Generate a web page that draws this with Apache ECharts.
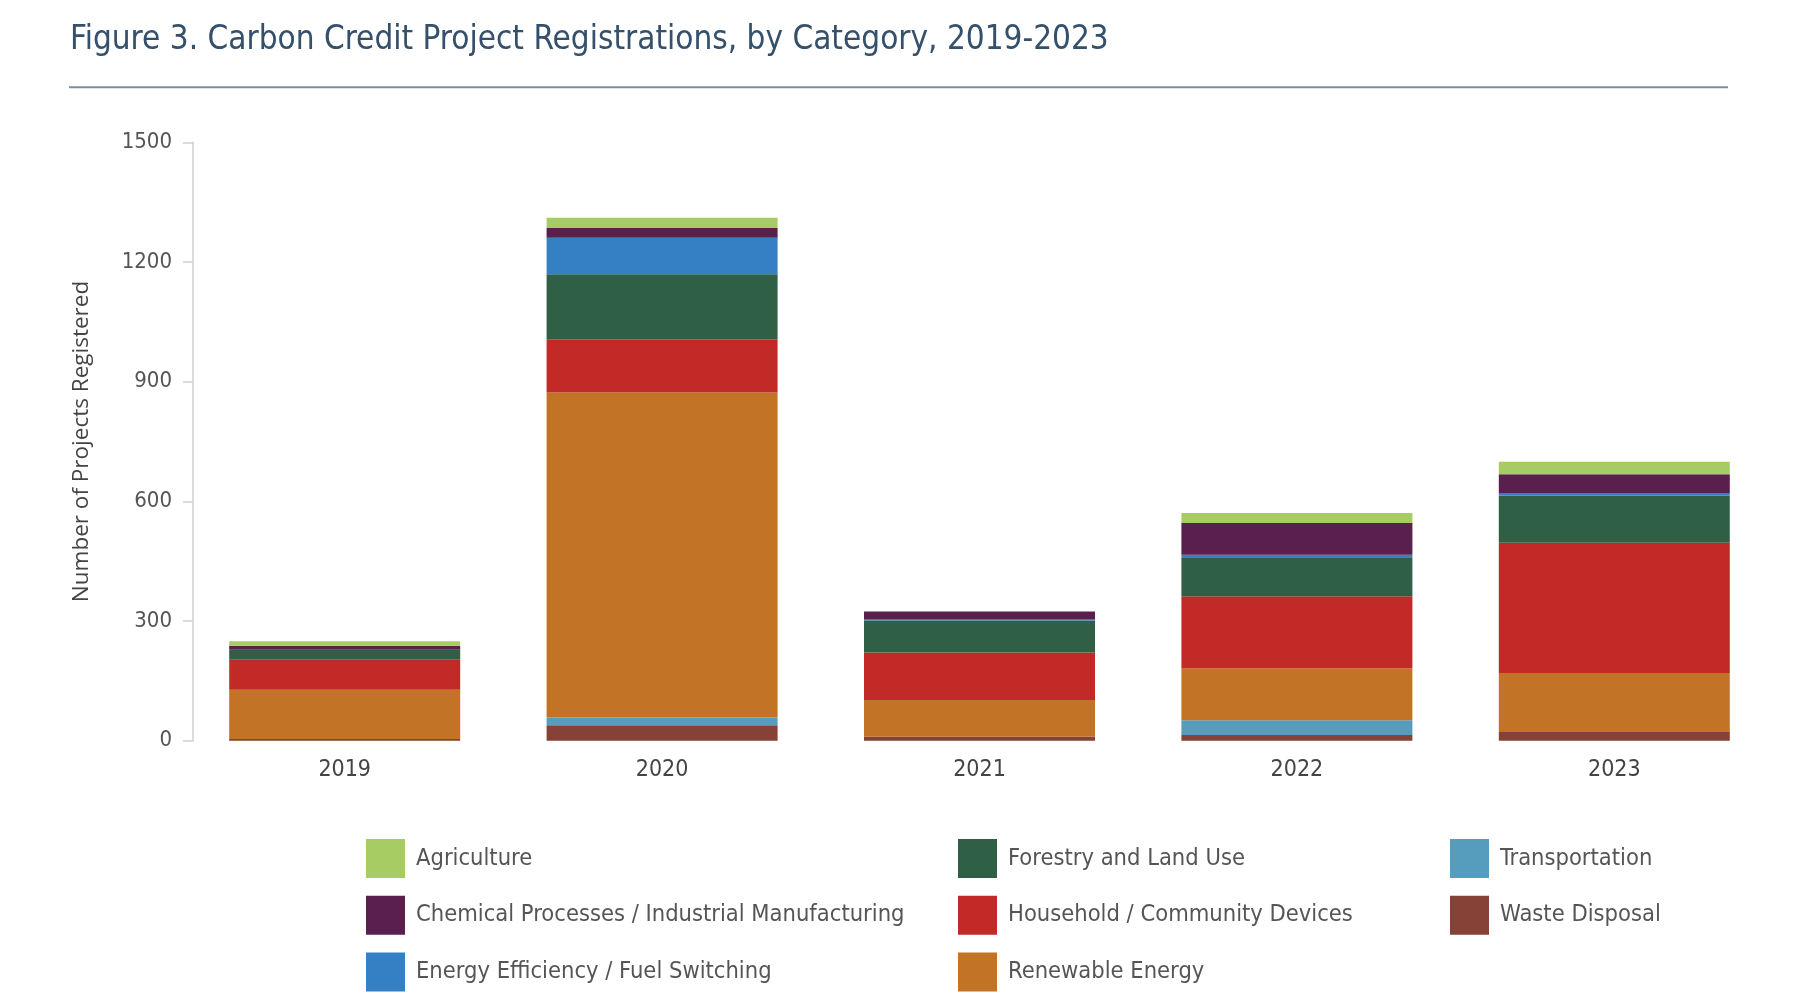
<!DOCTYPE html>
<html>
<head>
<meta charset="utf-8">
<script src="https://cdn.jsdelivr.net/npm/echarts@6/dist/echarts.min.js"></script>
<style>
html,body{margin:0;padding:0;background:#fff;}
#chart{width:1809px;height:1000px;}
</style>
</head>
<body>
<div id="chart"></div>
<script>
const categories = ['2019', '2020', '2021', '2022', '2023'];
const yTicks = [0, 300, 600, 900, 1200, 1500];
const wasteDisposal = [4, 39, 10, 14, 22];
const transportation = [0, 19, 0, 37, 0];
const renewableEnergy = [124, 815, 92, 130, 148];
const householdDevices = [75, 133, 119, 181, 326];
const forestryLandUse = [25, 163, 80, 98, 118];
const energyEfficiency = [0, 92, 4, 6, 7];
const chemicalProcesses = [10, 24, 19, 80, 47];
const agriculture = [11, 26, 0, 25, 31];

const NARROW = "'Liberation Sans Narrow', 'DejaVu Sans Condensed', 'Roboto Condensed', sans-serif";

const seriesDefs = [
  ['Waste Disposal', wasteDisposal, '#864236'],
  ['Transportation', transportation, '#569dbd'],
  ['Renewable Energy', renewableEnergy, '#c27326'],
  ['Household / Community Devices', householdDevices, '#c12a27'],
  ['Forestry and Land Use', forestryLandUse, '#2f5f45'],
  ['Energy Efficiency / Fuel Switching', energyEfficiency, '#3580c4'],
  ['Chemical Processes / Industrial Manufacturing', chemicalProcesses, '#5b1f4e'],
  ['Agriculture', agriculture, '#a8cc64']
];

const legendBase = {
  orient: 'vertical', top: 839, padding: 0,
  itemWidth: 39, itemHeight: 39, itemGap: 17.7,
  icon: 'rect',
  textStyle: { fontSize: 23.5, color: '#555', fontFamily: NARROW, padding: [0, 0, 0, 6] },
  selectedMode: false
};

const chart = echarts.init(document.getElementById('chart'), null, { renderer: 'canvas' });
chart.setOption({
  backgroundColor: '#fff',
  animation: false,
  title: {
    text: 'Figure 3. Carbon Credit Project Registrations, by Category, 2019-2023',
    left: 65, top: 19,
    textStyle: { fontSize: 33, fontWeight: 'normal', color: '#34506a', fontFamily: NARROW }
  },
  graphic: [{
    type: 'line',
    shape: { x1: 69, y1: 87.3, x2: 1728, y2: 87.3 },
    style: { stroke: '#7d8e9c', lineWidth: 2 }
  }],
  legend: [
    Object.assign({}, legendBase, { left: 366, data: ['Agriculture', 'Chemical Processes / Industrial Manufacturing', 'Energy Efficiency / Fuel Switching'] }),
    Object.assign({}, legendBase, { left: 958, data: ['Forestry and Land Use', 'Household / Community Devices', 'Renewable Energy'] }),
    Object.assign({}, legendBase, { left: 1450, data: ['Transportation', 'Waste Disposal'] })
  ],
  grid: { left: 186, right: 36, top: 142.3, bottom: 259.3, containLabel: false },
  xAxis: {
    type: 'category',
    data: categories,
    axisLine: { show: false },
    axisTick: { show: false },
    axisLabel: { fontSize: 23, color: '#444', fontFamily: NARROW, margin: 18 }
  },
  yAxis: {
    type: 'value',
    min: 0, max: 1500, interval: 300,
    offset: -7,
    name: 'Number of Projects Registered',
    nameLocation: 'middle',
    nameGap: 100,
    nameTextStyle: { fontSize: 22.5, color: '#444', fontFamily: "'Open Sans', 'Noto Sans', sans-serif" },
    axisLine: { show: true, lineStyle: { color: '#cfcfcf', width: 1.5 } },
    axisTick: { show: true, length: 10, lineStyle: { color: '#cfcfcf', width: 1.5 } },
    splitLine: { show: false },
    axisLabel: {
      fontSize: 22, color: '#555', fontFamily: NARROW, margin: 21,
      formatter: v => (yTicks.indexOf(v) >= 0 ? String(v) : '')
    }
  },
  series: seriesDefs.map(([name, data, color]) => ({
    name, type: 'bar', stack: 'total', data,
    barWidth: 231,
    itemStyle: { color },
    emphasis: { disabled: true }
  }))
});
</script>
</body>
</html>
